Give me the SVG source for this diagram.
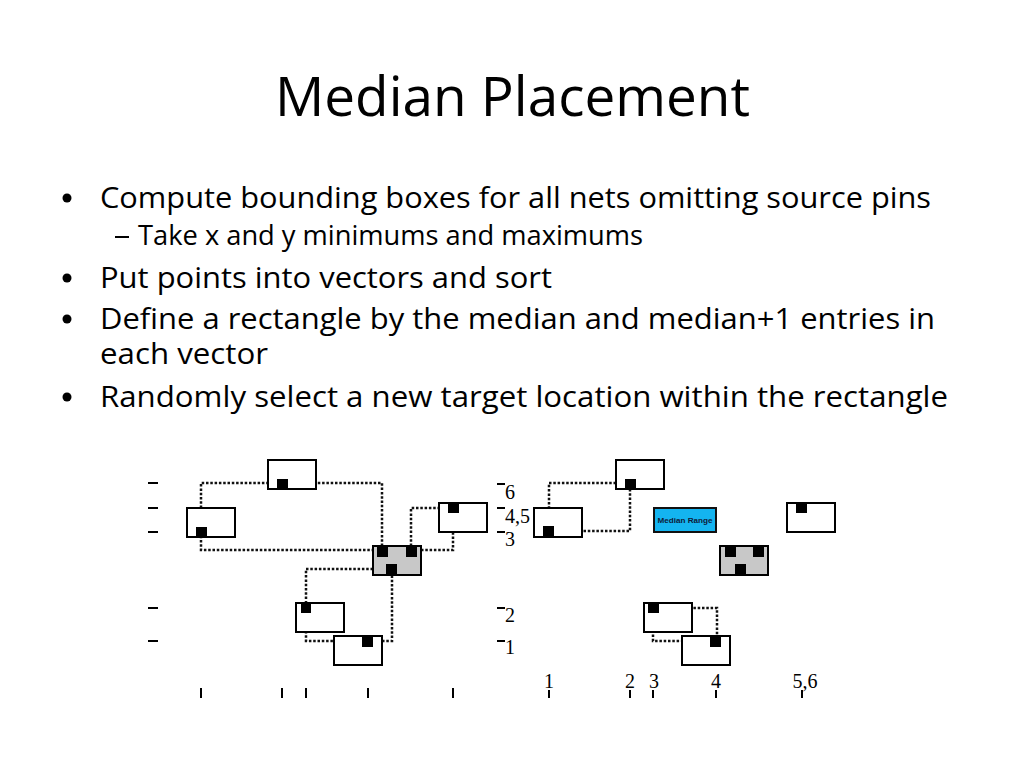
<svg xmlns="http://www.w3.org/2000/svg" width="1024" height="768" viewBox="0 0 1024 768">
  <defs>
    <style>
      .title { font-family: "Open Sans", "Noto Sans", sans-serif; font-size: 55px; fill: #000; }
      .body { font-family: "Open Sans", "Noto Sans", sans-serif; font-size: 30px; fill: #000; }
      .sub { font-family: "Open Sans", "Noto Sans", sans-serif; font-size: 26.5px; fill: #000; }
      .box { fill: #fff; stroke: #000; stroke-width: 2; }
      .cell { fill: #c8c8c8; stroke: #000; stroke-width: 2; }
      .pin { fill: #000; }
      .net { fill: none; stroke: #111; stroke-width: 2.5; stroke-dasharray: 2.5 1.8; }
      .tick { stroke: #000; stroke-width: 2; fill: none; }
      .axis { font-family: "Liberation Serif", "DejaVu Serif", serif; font-size: 20px; fill: #000; }
      .mr { fill: #14b4f0; stroke: #111; stroke-width: 2; }
      .mrt { font-family: "Liberation Sans", Arial, sans-serif; font-size: 8px; font-weight: bold; fill: #0d1b3a; }
    </style>
  </defs>
  <rect x="0" y="0" width="1024" height="768" fill="#fff"/>

  <g id="title">
    <text class="title" x="275" y="116" textLength="475" lengthAdjust="spacingAndGlyphs">Median Placement</text>
  </g>

  <g id="bullets">
    <circle cx="67" cy="198" r="4.5"/>
    <text class="body" x="100" y="208" textLength="831" lengthAdjust="spacingAndGlyphs">Compute bounding boxes for all nets omitting source pins</text>
    <rect x="115" y="236" width="14" height="2" fill="#000"/>
    <text class="sub" x="138" y="245" textLength="505" lengthAdjust="spacingAndGlyphs">Take x and y minimums and maximums</text>
    <circle cx="67" cy="278" r="4.5"/>
    <text class="body" x="100" y="288" textLength="452" lengthAdjust="spacingAndGlyphs">Put points into vectors and sort</text>
    <circle cx="67" cy="319" r="4.5"/>
    <text class="body"><tspan x="100" y="329" textLength="835" lengthAdjust="spacingAndGlyphs">Define a rectangle by the median and median+1 entries in</tspan><tspan x="100" y="364" textLength="168" lengthAdjust="spacingAndGlyphs">each vector</tspan></text>
    <circle cx="67" cy="397" r="4.5"/>
    <text class="body" x="100" y="407" textLength="848" lengthAdjust="spacingAndGlyphs">Randomly select a new target location within the rectangle</text>
  </g>

  <!-- Left diagram -->
  <g id="left-connectors">
    <polyline class="net" points="382,546 382,483 201,483 201,550 373,550"/>
    <polyline class="net" points="411,546 411,508 448,508"/>
    <polyline class="net" points="421,550 453,550 453,513"/>
    <polyline class="net" points="373,569 306,569 306,641 392,641 392,575"/>
  </g>
  <g id="left-top-cell">
    <rect class="box" x="268" y="460" width="48" height="29"/>
    <rect class="pin" x="277" y="479" width="11" height="10"/>
  </g>
  <g id="left-left-cell">
    <rect class="box" x="187" y="508" width="48" height="29"/>
    <rect class="pin" x="196" y="527" width="11" height="10"/>
  </g>
  <g id="left-right-cell">
    <rect class="box" x="439" y="503" width="48" height="29"/>
    <rect class="pin" x="448" y="503" width="11" height="10"/>
  </g>
  <g id="left-moving-cell">
    <rect class="cell" x="373" y="546" width="48" height="29"/>
    <rect class="pin" x="377" y="546" width="11" height="11"/>
    <rect class="pin" x="406" y="546" width="11" height="11"/>
    <rect class="pin" x="386" y="564" width="11" height="11"/>
  </g>
  <g id="left-lower-cell-1">
    <rect class="box" x="296" y="603" width="48" height="29"/>
    <rect class="pin" x="301" y="603" width="10" height="10"/>
  </g>
  <g id="left-lower-cell-2">
    <rect class="box" x="334" y="636" width="48" height="29"/>
    <rect class="pin" x="362" y="636" width="11" height="11"/>
  </g>
  <g id="left-axis">
    <path class="tick" d="M148,483 H158 M148,508 H158 M148,532 H158 M148,608 H158 M148,641 H158"/>
    <path class="tick" d="M201,688 V698 M282,688 V698 M306,688 V698 M368,688 V698 M453,688 V698"/>
  </g>

  <!-- Shared axis labels -->
  <g id="y-axis">
    <path class="tick" d="M497,484 H505 M497,508 H505 M497,532 H505 M497,608 H505 M497,641 H505"/>
    <text class="axis" x="505" y="499">6</text>
    <text class="axis" x="505" y="523">4,5</text>
    <text class="axis" x="505" y="546">3</text>
    <text class="axis" x="505" y="622">2</text>
    <text class="axis" x="505" y="654">1</text>
  </g>

  <!-- Right diagram -->
  <g id="right-connectors">
    <polyline class="net" points="549,526 549,483 625,483"/>
    <polyline class="net" points="630,489 630,531 554,531"/>
    <polyline class="net" points="659,608 717,608 717,636"/>
    <polyline class="net" points="653,613 653,641 710,641"/>
  </g>
  <g id="right-top-cell">
    <rect class="box" x="616" y="460" width="48" height="29"/>
    <rect class="pin" x="625" y="479" width="11" height="10"/>
  </g>
  <g id="right-left-cell">
    <rect class="box" x="534" y="508" width="48" height="29"/>
    <rect class="pin" x="543" y="526" width="11" height="11"/>
  </g>
  <g id="median-range">
    <rect class="mr" x="654" y="508" width="62" height="24"/>
    <text class="mrt" x="685" y="523" text-anchor="middle" textLength="55" lengthAdjust="spacingAndGlyphs">Median Range</text>
  </g>
  <g id="right-right-cell">
    <rect class="box" x="787" y="503" width="48" height="29"/>
    <rect class="pin" x="796" y="503" width="11" height="10"/>
  </g>
  <g id="right-moving-cell">
    <rect class="cell" x="720" y="546" width="48" height="29"/>
    <rect class="pin" x="725" y="546" width="11" height="11"/>
    <rect class="pin" x="753" y="546" width="11" height="11"/>
    <rect class="pin" x="735" y="564" width="11" height="11"/>
  </g>
  <g id="right-lower-cell-1">
    <rect class="box" x="644" y="603" width="48" height="29"/>
    <rect class="pin" x="648" y="603" width="11" height="10"/>
  </g>
  <g id="right-lower-cell-2">
    <rect class="box" x="682" y="636" width="48" height="29"/>
    <rect class="pin" x="710" y="636" width="11" height="11"/>
  </g>
  <g id="x-axis">
    <path class="tick" d="M549,690 V698 M630,690 V698 M653,690 V698 M716,690 V698 M802,690 V698"/>
    <text class="axis" x="549" y="688" text-anchor="middle">1</text>
    <text class="axis" x="630" y="688" text-anchor="middle">2</text>
    <text class="axis" x="654" y="688" text-anchor="middle">3</text>
    <text class="axis" x="716" y="688" text-anchor="middle">4</text>
    <text class="axis" x="805" y="688" text-anchor="middle">5,6</text>
  </g>
</svg>
